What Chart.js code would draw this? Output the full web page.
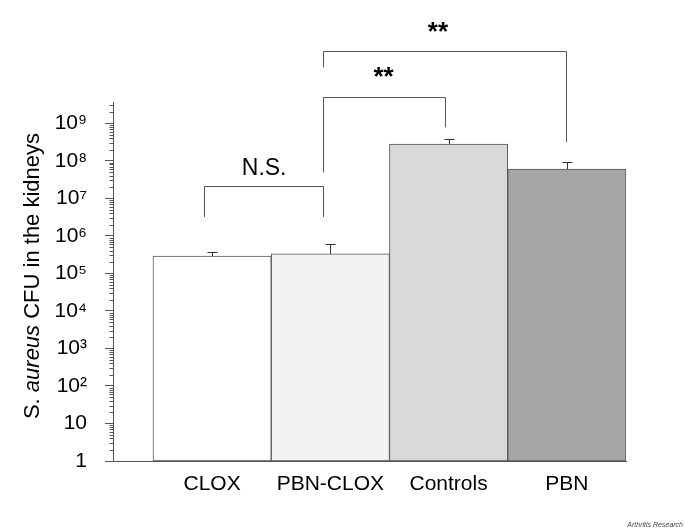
<!DOCTYPE html>
<html>
<head>
<meta charset="utf-8">
<script src="https://cdn.jsdelivr.net/npm/chart.js@4"></script>
<style>
  html, body { margin: 0; padding: 0; background: #fff; }
  #wrap { width: 685px; height: 530px; }
</style>
</head>
<body>
<div id="wrap"><canvas id="chart"></canvas></div>
<script>
// ---- data ----
const groups     = ['CLOX', 'PBN-CLOX', 'Controls', 'PBN'];
const cfuMean    = [2.9e5, 3.3e5, 2.8e8, 6.0e7];
const cfuUpper   = [3.75e5, 6.1e5, 3.75e8, 9.3e7];
const yMajorTicks  = [1, 10, 1e2, 1e3, 1e4, 1e5, 1e6, 1e7, 1e8, 1e9];
const yMajorLabels = ['1', '10', '10²', '10³', '10⁴', '10⁵', '10⁶', '10⁷', '10⁸', '10⁹'];
const yMax = 3.7e9;

const barFills = ['#ffffff', '#f2f2f2', '#d9d9d9', '#a6a6a6'];
const FONT = '"Liberation Sans", Arial, Helvetica, sans-serif';
const LINE = '#555';

// significance brackets (x in group units, y in CFU)
const brackets = [
    { x1: -0.07, x2: 0.94, y: 2.1e7, leg1: 3.2e6, leg2: 3.2e6, text: 'N.S.', tx: 0.44, ty: 6.3e7, bold: false },
    { x1: 0.94, x2: 1.97, y: 4.9e9, leg1: 4.9e7, leg2: 7.8e8, text: '**', tx: 1.45, ty: 2.1e10, bold: true },
    { x1: 0.94, x2: 2.99, y: 8.3e10, leg1: 3.1e10, leg2: 3.2e8, text: '**', tx: 1.91, ty: 3.4e11, bold: true },
];

const points = groups.map((g, i) => ({ x: i, y: cfuMean[i] }));

// ---- extra drawing: error bars, minor ticks, brackets, titles ----
const decorations = {
    id: 'decorations',
    afterDatasetsDraw(chart) {
        const ctx = chart.ctx;
        const y = chart.scales.y;
        const meta = chart.getDatasetMeta(0);
        ctx.save();
        ctx.strokeStyle = '#333';
        ctx.lineWidth = 1;
        meta.data.forEach((bar, i) => {
            const top = y.getPixelForValue(cfuUpper[i]);
            const bx = Math.round(bar.x) + 0.5;
            ctx.beginPath();
            ctx.moveTo(bx, bar.y);
            ctx.lineTo(bx, top);
            ctx.moveTo(bx - 5, Math.round(top) + 0.5);
            ctx.lineTo(bx + 5, Math.round(top) + 0.5);
            ctx.stroke();
        });
        ctx.restore();
    },
    afterDraw(chart) {
        const ctx = chart.ctx;
        const x = chart.scales.x;
        const y = chart.scales.y;
        ctx.save();

        // minor ticks on the log axis
        ctx.strokeStyle = LINE;
        ctx.lineWidth = 1;
        const ax = Math.round(chart.chartArea.left) + 0.5;
        y.ticks.forEach(t => {
            if (t.major) return;
            const py = Math.round(y.getPixelForValue(t.value)) + 0.5;
            ctx.beginPath();
            ctx.moveTo(ax - 4, py);
            ctx.lineTo(ax, py);
            ctx.stroke();
        });

        // brackets
        ctx.strokeStyle = LINE;
        ctx.fillStyle = '#000';
        ctx.textAlign = 'center';
        ctx.textBaseline = 'middle';
        brackets.forEach(b => {
            const px1 = Math.round(x.getPixelForValue(b.x1)) + 0.5;
            const px2 = Math.round(x.getPixelForValue(b.x2)) + 0.5;
            const py = Math.round(y.getPixelForValue(b.y)) + 0.5;
            ctx.beginPath();
            ctx.moveTo(px1, y.getPixelForValue(b.leg1));
            ctx.lineTo(px1, py);
            ctx.lineTo(px2, py);
            ctx.lineTo(px2, y.getPixelForValue(b.leg2));
            ctx.stroke();
            ctx.font = (b.bold ? 'bold 26px ' : '23px ') + FONT;
            ctx.fillText(b.text, x.getPixelForValue(b.tx), y.getPixelForValue(b.ty) + (b.bold ? 4 : 0));
        });

        // y axis title with italic species name
        const parts = [['S. ', ''], ['aureus', 'italic '], [' CFU in the kidneys', '']];
        let total = 0;
        parts.forEach(p => { ctx.font = p[1] + '22px ' + FONT; total += ctx.measureText(p[0]).width; });
        ctx.translate(33, 276);
        ctx.rotate(-Math.PI / 2);
        ctx.textAlign = 'left';
        let cx = -total / 2;
        parts.forEach(p => {
            ctx.font = p[1] + '22px ' + FONT;
            ctx.fillText(p[0], cx, 0);
            cx += ctx.measureText(p[0]).width;
        });
        ctx.setTransform(1, 0, 0, 1, 0, 0);

        // journal credit
        ctx.font = 'italic 7px ' + FONT;
        ctx.fillStyle = '#444';
        ctx.textAlign = 'right';
        ctx.textBaseline = 'alphabetic';
        ctx.fillText('Arthritis Research', 683, 527);
        ctx.restore();
    },
};

new Chart(document.getElementById('chart'), {
    type: 'bar',
    data: {
        datasets: [{
            data: points,
            backgroundColor: barFills,
            borderColor: LINE,
            borderWidth: 1,
            borderSkipped: false,
            barPercentage: 1,
            categoryPercentage: 1,
        }],
    },
    options: {
        responsive: true,
        maintainAspectRatio: false,
        animation: false,
        events: [],
        layout: { padding: { left: 53, top: 102, right: 59, bottom: 0 } },
        plugins: { legend: { display: false }, tooltip: { enabled: false } },
        scales: {
            x: {
                type: 'linear',
                offset: false,
                min: -0.838,
                max: 3.5,
                afterBuildTicks: s => { s.ticks = groups.map((g, i) => ({ value: i })); },
                afterFit: s => { s.height = 69; },
                grid: { display: false, drawTicks: false, offset: false },
                border: { display: true, color: LINE, width: 1 },
                ticks: {
                    autoSkip: false,
                    maxRotation: 0,
                    padding: 11,
                    color: '#000',
                    font: { family: FONT, size: 21 },
                    callback: v => groups[v] ?? '',
                },
            },
            y: {
                type: 'logarithmic',
                min: 1,
                max: yMax,
                afterBuildTicks: s => {
                    const t = [];
                    for (let e = 0; e <= 9; e++) {
                        for (let m = 1; m <= 9; m++) {
                            const v = m * Math.pow(10, e);
                            if (v <= yMax) t.push({ value: v, major: m === 1 });
                        }
                    }
                    s.ticks = t;
                },
                afterFit: s => { s.width = 60; },
                grid: {
                    drawOnChartArea: false,
                    tickLength: 8,
                    tickColor: c => (c.tick && c.tick.major ? LINE : 'rgba(0,0,0,0)'),
                },
                border: { display: true, color: LINE, width: 1 },
                ticks: {
                    autoSkip: false,
                    padding: 18,
                    color: '#000',
                    font: { family: FONT, size: 21 },
                    callback: v => {
                        const i = yMajorTicks.indexOf(v);
                        return i >= 0 ? yMajorLabels[i] : '';
                    },
                },
            },
        },
    },
    plugins: [decorations],
});
</script>
</body>
</html>
